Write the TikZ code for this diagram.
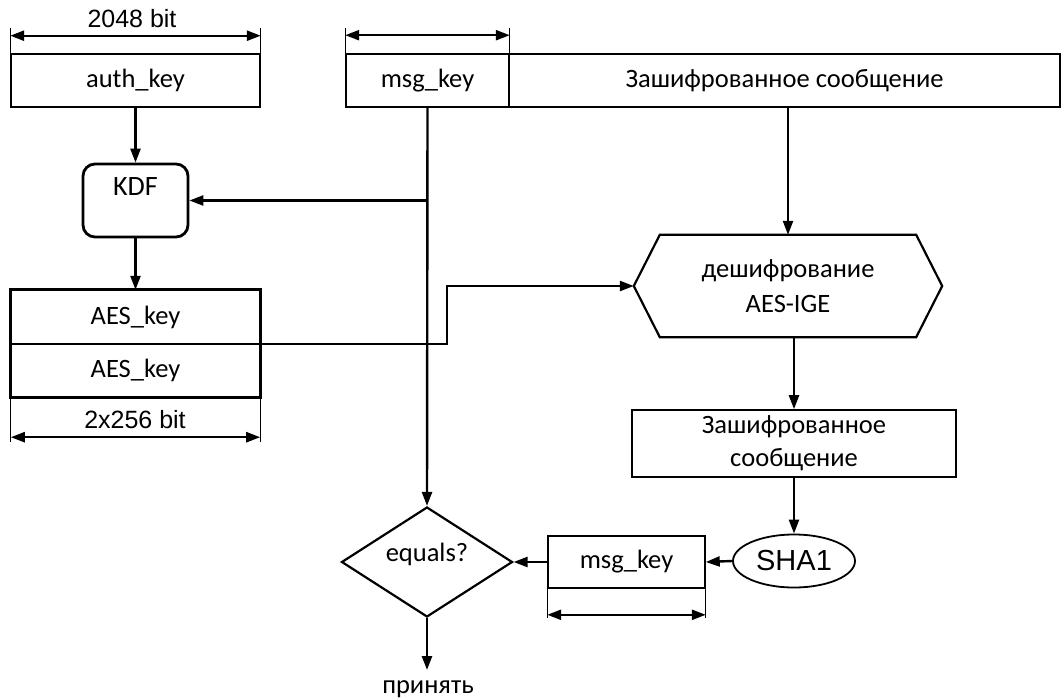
\documentclass[tikz,border=0pt]{standalone}
\usepackage{fontspec}
\setmainfont{Carlito}
\newfontfamily\arialfont{Liberation Sans}
\usetikzlibrary{arrows.meta,shapes.geometric}

\tikzset{
  txt/.style={font=\fontsize{26.5}{35}\selectfont},
  box/.style={draw, line width=1.6pt, inner sep=0pt, txt},
  arr/.style={line width=2.4pt, -{Triangle[length=14pt,width=10pt]}},
  dim/.style={line width=2.4pt, {Triangle[length=14pt,width=10pt]}-{Triangle[length=14pt,width=10pt]}},
  tick/.style={line width=1pt},
  dimlabel/.style={font=\arialfont\fontsize{25}{28}\selectfont, inner sep=0pt}
}

\begin{document}
\begin{tikzpicture}[x=1pt,y=-1pt]
\useasboundingbox (0,0) rectangle (1061,699);

% top row: key fields and the encrypted payload
\node[box, minimum width=249, minimum height=53] (auth) at (135.5,80.5) {auth\_key};
\node[box, minimum width=163, minimum height=53] (mk) at (427.5,80.5) {msg\_key};
\node[box, minimum width=551, minimum height=53] (msg) at (784.5,80.5) {Зашифрованное сообщение};

% size rulers above the top row
\draw[tick] (auth.north west) -- ++(0,-25);
\draw[tick] (auth.north east) -- ++(0,-25);
\draw[dim] ([yshift=17.5pt]auth.north west) -- ([yshift=17.5pt]auth.north east);
\node[dimlabel] (l2048) at (132,19) {2048 bit};
\draw[tick] (mk.north west) -- ++(0,-25);
\draw[tick] (mk.north east) -- ++(0,-25);
\draw[dim] ([yshift=18pt]mk.north west) -- ([yshift=18pt]mk.north east);

% key derivation
\node[draw, line width=2.8pt, rounded corners=12pt, minimum width=105, minimum height=73,
      label={[anchor=north, yshift=-11pt, font=\fontsize{28}{34}\selectfont]north:KDF}] (kdf) at (135.5,200.5) {};

% derived AES keys
\node[txt, minimum width=249, minimum height=54, inner sep=0pt] (aes1) at (135.5,317) {AES\_key};
\node[txt, minimum width=249, minimum height=53, inner sep=0pt] (aes2) at (135.5,370.5) {AES\_key};
\draw[line width=3pt] (aes1.north west) rectangle (aes2.south east);
\draw[line width=1.8pt] (aes1.south west) -- (aes1.south east);
\draw[tick] (aes2.south west) -- ++(0,45);
\draw[tick] (aes2.south east) -- ++(0,45);
\draw[dim] ([yshift=-40pt]aes2.south west) -- ([yshift=-40pt]aes2.south east);
\node[dimlabel] (l512) at (135,420) {2x256 bit};

% decryption block
\node[txt, align=center, minimum width=308, minimum height=102, inner sep=0pt] (dec) at (788,286)
  {дешифрование\\AES-IGE};
\draw[line width=2.2pt] ([xshift=26pt]dec.north west) -- ([xshift=-26pt]dec.north east) -- (dec.east)
  -- ([xshift=-26pt]dec.south east) -- ([xshift=26pt]dec.south west) -- (dec.west) -- cycle;

\node[box, align=center, font=\fontsize{26.5}{33}\selectfont, minimum width=324, minimum height=67] (plain) at (794,443.5)
  {Зашифрованное\\сообщение};

\node[draw, ellipse, line width=1.8pt, inner sep=0pt, minimum width=122, minimum height=53,
      font=\arialfont\fontsize{29}{32}\selectfont] (sha) at (794,561) {SHA1};

\node[box, minimum width=157, minimum height=52] (mk2) at (626.5,562) {msg\_key};
\draw[tick] (mk2.south west) -- ++(0,29);
\draw[tick] (mk2.south east) -- ++(0,29);
\draw[dim] ([yshift=-26pt]mk2.south west) -- ([yshift=-26pt]mk2.south east);

\node[draw, diamond, line width=2.2pt, inner sep=0pt, minimum width=171, minimum height=110,
      label={[yshift=8pt, txt]center:equals?}] (eq) at (427,562) {};

\coordinate (accend) at (427,670);
\node[txt, inner sep=0pt] (acc) at (428,689) {принять};

% connectors
\coordinate (branch) at (mk.south |- kdf.east);
\draw[arr] (auth.south) -- (kdf.north);
\draw[arr] (mk.south) -- (eq.north);
\draw[arr] (branch) -- (kdf.east);
\draw[arr] (kdf.south) -- (aes1.north);
\draw[arr] (aes1.south east) -- ++(187,0) |- (dec.west);
\draw[arr] (dec.north |- msg.south) -- (dec.north);
\draw[arr] (plain.north |- dec.south) -- (plain.north);
\draw[arr] (plain.south) -- (sha.north);
\draw[arr] (sha.west) -- (mk2.east);
\draw[arr] (mk2.west) -- (eq.east);
\draw[arr] (eq.south) -- (accend);
\end{tikzpicture}
\end{document}
